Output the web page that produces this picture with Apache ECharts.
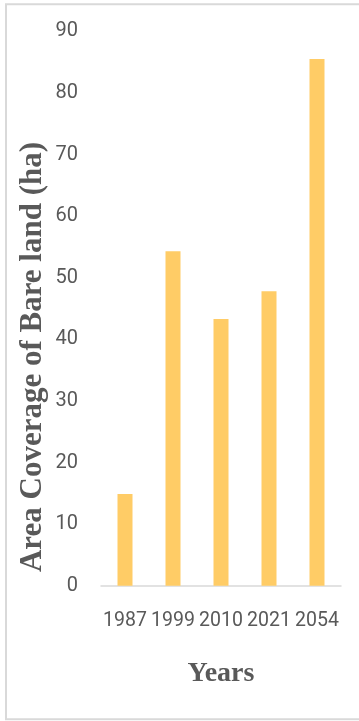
<!DOCTYPE html>
<html>
<head>
<meta charset="utf-8">
<script src="https://cdn.jsdelivr.net/npm/echarts@6/dist/echarts.min.js"></script>
<style>
  html, body { margin: 0; padding: 0; background: #fff; }
  #chart { width: 359px; height: 721px; }
</style>
</head>
<body>
<div id="chart"></div>
<script>
// Bare land area per year (ha)
const years = ['1987', '1999', '2010', '2021', '2054'];
const bareLand = [14.9, 54.3, 43.3, 47.8, 85.5];
const yTicks = { min: 0, max: 90, interval: 10 };
const yTitle = 'Area Coverage of Bare land (ha)';
const xTitle = 'Years';

const textGray = '#595959';
const lineGray = '#d9d9d9';
const labelFont = 'Roboto, sans-serif';

const chart = echarts.init(document.getElementById('chart'));
chart.setOption({
  backgroundColor: '#ffffff',
  animation: false,
  graphic: [{
    type: 'rect',
    silent: true,
    shape: { x: 6, y: 4.2, width: 400, height: 715 },
    style: { fill: 'none', stroke: lineGray, lineWidth: 2 }
  }, {
    type: 'text',
    silent: true,
    x: 33,
    y: 357,
    rotation: Math.PI / 2,
    style: {
      text: yTitle,
      fill: textGray,
      font: 'bold 31px "Liberation Serif", serif',
      align: 'center',
      verticalAlign: 'middle'
    }
  }],
  grid: { left: 101, right: 18, top: 31.3, bottom: 135.3 },
  xAxis: {
    type: 'category',
    data: years,
    axisLine: { lineStyle: { color: lineGray, width: 1.5 } },
    axisTick: { show: false },
    axisLabel: {
      color: textGray,
      fontFamily: labelFont,
      fontSize: 19.5,
      margin: 25,
      interval: 0
    },
    name: xTitle,
    nameLocation: 'middle',
    nameGap: 74,
    nameTextStyle: {
      color: textGray,
      fontFamily: '"Liberation Serif", serif',
      fontWeight: 'bold',
      fontSize: 28
    }
  },
  yAxis: {
    type: 'value',
    min: yTicks.min,
    max: yTicks.max,
    interval: yTicks.interval,
    splitLine: { show: false },
    axisLine: { show: false },
    axisTick: { show: false },
    axisLabel: {
      color: textGray,
      fontFamily: labelFont,
      fontSize: 20,
      margin: 23
    }
  },
  series: [{
    type: 'bar',
    data: bareLand,
    barWidth: 15,
    itemStyle: { color: '#FFCC66' }
  }]
});
</script>
</body>
</html>
